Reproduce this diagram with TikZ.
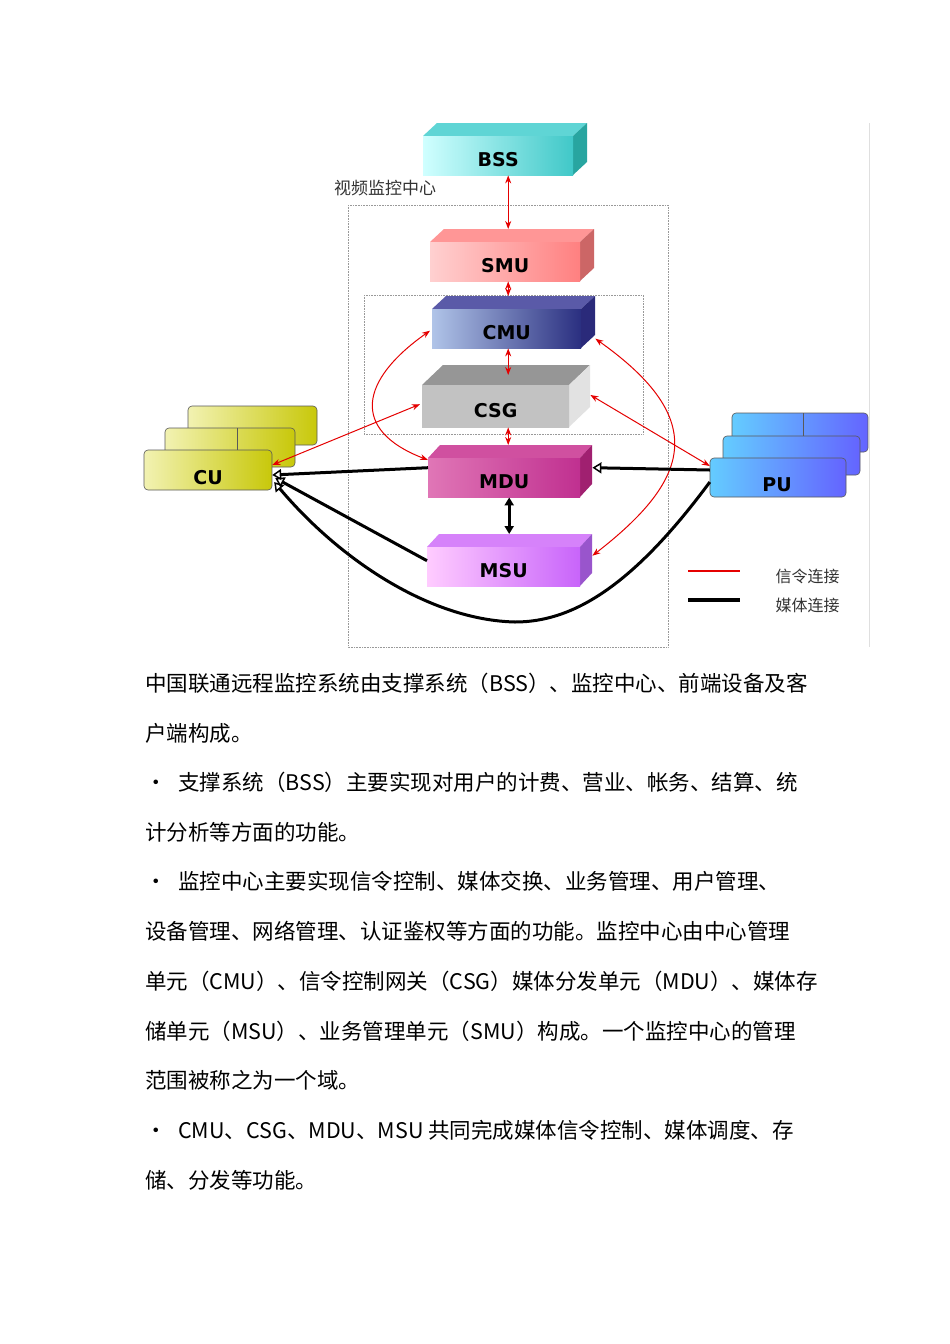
\documentclass[tikz,border=0pt]{standalone}
\usepackage{fontspec}
\setmainfont{Carlito}
\newfontfamily\cjk{Noto Sans CJK SC}
\newfontfamily\lbl{DejaVu Sans}
\usetikzlibrary{arrows.meta,calc}
\definecolor{bssL}{RGB}{208,255,255}\definecolor{bssR}{RGB}{64,200,200}\definecolor{bssS}{RGB}{40,165,160}\definecolor{bssT}{RGB}{95,213,213}
\definecolor{smuL}{RGB}{255,208,208}\definecolor{smuR}{RGB}{255,128,128}\definecolor{smuS}{RGB}{204,102,102}\definecolor{smuT}{RGB}{255,150,150}
\definecolor{cmuL}{RGB}{176,196,232}\definecolor{cmuR}{RGB}{42,47,128}\definecolor{cmuS}{RGB}{42,42,122}\definecolor{cmuT}{RGB}{90,90,168}
\definecolor{csgL}{RGB}{194,194,194}\definecolor{csgR}{RGB}{194,194,194}\definecolor{csgS}{RGB}{226,226,226}\definecolor{csgT}{RGB}{150,150,150}
\definecolor{mduL}{RGB}{224,118,182}\definecolor{mduR}{RGB}{192,48,144}\definecolor{mduS}{RGB}{160,32,112}\definecolor{mduT}{RGB}{208,80,160}
\definecolor{msuL}{RGB}{255,204,255}\definecolor{msuR}{RGB}{200,100,250}\definecolor{msuS}{RGB}{153,85,204}\definecolor{msuT}{RGB}{214,130,250}
\definecolor{cuL}{RGB}{242,242,178}\definecolor{cuR}{RGB}{200,200,10}
\definecolor{puL}{RGB}{100,204,255}\definecolor{puR}{RGB}{100,100,255}
\tikzset{
 sig/.style={red!90!black,line width=1pt,{Stealth[length=8pt,width=6pt]}-{Stealth[length=8pt,width=6pt]}},
 med/.style={black,line width=3pt,-{Triangle[open,length=9pt,width=11pt,line width=1.5pt]}},
 frame/.style={gray!80,densely dotted,line width=0.6pt},
 para/.style={anchor=base west,inner sep=0,font=\cjk\fontsize{21.5}{24}\selectfont},
 boxlbl/.style={font=\lbl\bfseries\fontsize{19}{22}\selectfont},
 cubox/.style={rounded corners=4pt,draw=gray!70!black,line width=0.6pt,left color=#1L,right color=#1R},
}
% name, x1, ytop, yfront, x2, ybot, xside, colour prefix, label
\newcommand\tbox[9]{
 \fill[#8T] (#2,#4)--({#2+#7-#5},#3)--(#7,#3)--(#5,#4)--cycle;
 \fill[#8S] (#5,#4)--(#7,#3)--(#7,{#6-(#4-#3)})--(#5,#6)--cycle;
 \node[shade,shading=axis,left color=#8L,right color=#8R,inner sep=0,minimum width={(#5-#2)*1pt},minimum height={(#6-#4)*1pt},anchor=north west] (#1) at (#2,#4) {};
 \node[boxlbl] at ($(#1.center)+(0,4)$) {#9};
}
\begin{document}
\begin{tikzpicture}[x=1pt,y=-1pt]
\useasboundingbox (0,0) rectangle (950,1344);
\fill[white] (0,0) rectangle (950,1344);
\draw[gray!25,line width=0.5pt] (869,123)--(869,647);
\draw[frame] (348,205) rectangle (668,647);
\draw[frame] (364,295) rectangle (643,434);
\node[anchor=base west,inner sep=0,font=\cjk\fontsize{17}{18}\selectfont,text=black!80] (title) at (334,194) {视频监控中心};
\tbox{bss}{423}{123}{136}{573}{175}{587}{bss}{BSS}
\tbox{smu}{430}{229}{242}{580}{281}{594}{smu}{SMU}
\tbox{cmu}{432}{296}{309}{581}{348}{595}{cmu}{CMU}
\tbox{csg}{422}{365}{385}{569}{427}{590}{csg}{CSG}
\tbox{mdu}{428}{445}{458}{580}{497}{592}{mdu}{MDU}
\tbox{msu}{427}{534}{547}{580}{586}{592}{msu}{MSU}
% CU
\draw[cubox=cu] (188,406) rectangle (317,445);
\draw[cubox=cu] (165,428) rectangle (295,467);
\draw[gray!70!black] (237,428)--(237,467);
\draw[cubox=cu] (144,450) rectangle (272,490);
\node[inner sep=0,minimum width=128pt,minimum height=40pt] (cu) at (208,470) {};
\node[boxlbl] at (208,478) {CU};
% PU
\draw[cubox=pu] (732,413) rectangle (868,452);
\draw[gray!70!black] (803,413)--(803,452);
\draw[cubox=pu] (723,436) rectangle (860,475);
\draw[cubox=pu] (710,458) rectangle (846,497);
\node[inner sep=0,minimum width=136pt,minimum height=39pt] (pu) at (778,477) {};
\node[boxlbl] at (777,485) {PU};
% signalling
\draw[sig] ($(bss.south)+(10,0)$) -- ($(smu.north)+(3,-13)$);
\draw[sig] ($(smu.south)+(3,0)$) -- ($(cmu.north)+(1.5,-13)$);
\draw[sig] ($(cmu.south)+(1.5,0)$) -- ($(csg.north)+(12.5,-10)$);
\draw[sig] ($(csg.south)+(12.5,0)$) -- ($(mdu.north)+(4,-13)$);
\draw[sig] ($(cmu.west)+(-2,2)$) .. controls (360,380) and (350,430) .. ($(mdu.north west)+(0,2)$);
\draw[sig] ($(cmu.east)+(14,10)$) .. controls (710,420) and (690,480) .. ($(msu.east)+(12,-11)$);
\draw[sig] ($(cu.east)+(0,-5)$) -- ($(csg.west)+(-2,-2)$);
\draw[sig] ($(csg.north east)+(21,10)$) -- ($(pu.west)+(0,-11)$);
% media
\draw[med] ($(mdu.west)+(0,-10)$) -- ($(cu.east)+(0,5)$);
\draw[med] ($(pu.west)+(0,-7)$) -- ($(mdu.east)+(12,-10)$);
\draw[med] ($(msu.west)+(0,-6)$) -- ($(cu.east)+(3,8)$);
\draw[med] ($(pu.west)+(0,5)$) .. controls (630,590) and (570,622) .. (515,622) .. controls (430,620) and (340,560) .. ($(cu.east)+(2,12)$);
\draw[black,line width=3pt,{Triangle[length=8pt,width=9pt]}-{Triangle[length=8pt,width=9pt]}] ($(mdu.south)+(5,0)$) -- ($(msu.north)+(5.5,-13)$);
% legend
\coordinate (l1a) at (688,571); \coordinate (l1b) at (740,571);
\coordinate (l2a) at (688,600); \coordinate (l2b) at (740,600);
\draw[red!90!black,line width=1.2pt] (l1a)--(l1b);
\draw[black,line width=4pt] (l2a)--(l2b);
\node[anchor=west,font=\cjk\fontsize{16}{18}\selectfont,text=black!80] (lg1) at (772,576) {信令连接};
\node[anchor=west,font=\cjk\fontsize{16}{18}\selectfont,text=black!80] (lg2) at (772,605) {媒体连接};
% text
\node[para] (p1) at (145,691) {中国联通远程监控系统由支撑系统（BSS）、监控中心、前端设备及客};
\node[para] (p2) at (145,741) {户端构成。};
\node[para] (b1) at (145,790) {•};
\node[para] (p3) at (178,790) {支撑系统（BSS）主要实现对用户的计费、营业、帐务、结算、统};
\node[para] (p4) at (145,840) {计分析等方面的功能。};
\node[para] (b2) at (145,889) {•};
\node[para] (p5) at (178,889) {监控中心主要实现信令控制、媒体交换、业务管理、用户管理、};
\node[para] (p6) at (145,939) {设备管理、网络管理、认证鉴权等方面的功能。监控中心由中心管理};
\node[para] (p7) at (145,989) {单元（CMU）、信令控制网关（CSG）媒体分发单元（MDU）、媒体存};
\node[para] (p8) at (145,1039) {储单元（MSU）、业务管理单元（SMU）构成。一个监控中心的管理};
\node[para] (p9) at (145,1088) {范围被称之为一个域。};
\node[para] (b3) at (145,1138) {•};
\node[para] (p10) at (178,1138) {CMU、CSG、MDU、MSU 共同完成媒体信令控制、媒体调度、存};
\node[para] (p11) at (145,1188) {储、分发等功能。};
\end{tikzpicture}
\end{document}
